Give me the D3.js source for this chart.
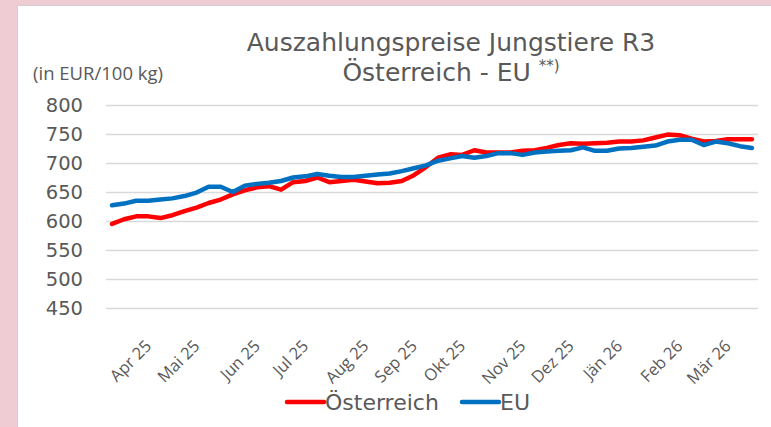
<!DOCTYPE html>
<html>
<head>
<meta charset="utf-8">
<script src="https://cdn.jsdelivr.net/npm/d3@7"></script>
<style>
  body { margin: 0; background: #efccd4; }
  svg { display: block; }
</style>
</head>
<body>
<div id="chart"></div>
<script>
// weekly prices in EUR/100 kg
var oesterreich = [595, 603, 608, 608, 605, 610, 617, 623, 631, 637, 646, 653, 658, 660,
  654, 667, 669, 675, 667, 669, 671, 668, 665, 666, 669, 679, 693, 709, 715, 714,
  722, 718, 718, 718, 721, 722, 726, 731, 734, 733, 734, 735, 737, 737, 739, 744,
  749, 748, 742, 737, 738, 741, 741, 741];
var eu = [627, 630, 635, 635, 637, 639, 643, 649, 659, 659, 650, 661, 664, 666,
  669, 675, 677, 681, 678, 676, 676, 678, 680, 682, 686, 691, 696, 704, 708, 712,
  709, 712, 717, 717, 714, 718, 720, 721, 722, 727, 721, 721, 725, 726, 728, 730,
  737, 740, 740, 731, 737, 734, 729, 726];

// month labels sit on single weeks
var monthLabels = ["Apr 25", "Mai 25", "Jun 25", "Jul 25", "Aug 25", "Sep 25",
  "Okt 25", "Nov 25", "Dez 25", "Jän 26", "Feb 26", "Mär 26"];
var monthWeeks = [3, 7, 12, 16, 21, 25, 29, 34, 38, 42, 47, 51];

var yTicks = [450, 500, 550, 600, 650, 700, 750, 800];

var svgWidth = 771, svgHeight = 427;
var margin = { top: 105, right: 13, bottom: 119, left: 106 };
var width = svgWidth - margin.left - margin.right;
var height = svgHeight - margin.top - margin.bottom;

var dejavu = "'DejaVu Sans', sans-serif";
var grey = "#595959";

var svg = d3.select("#chart").append("svg")
  .attr("width", svgWidth)
  .attr("height", svgHeight);

// white panel
svg.append("rect")
  .attr("x", 17.5).attr("y", 5.5)
  .attr("width", svgWidth).attr("height", svgHeight)
  .attr("fill", "#fff")
  .attr("stroke", "#d0d0d0");

var g = svg.append("g")
  .attr("transform", `translate(${margin.left}, ${margin.top})`);

var weeks = d3.range(oesterreich.length);

var x = d3.scaleBand()
  .domain(weeks)
  .range([0, width]);

var y = d3.scaleLinear()
  .domain([450, 800])
  .range([height, 0]);

// gridlines + y labels
var yAxis = d3.axisLeft(y)
  .tickValues(yTicks)
  .tickSize(-width)
  .tickPadding(23);

g.append("g")
  .call(yAxis)
  .call(function(a) {
    a.select(".domain").remove();
    a.selectAll(".tick line").attr("stroke", "#d9d9d9").attr("stroke-width", 1.5);
    a.selectAll(".tick text")
      .attr("fill", grey)
      .style("font-family", dejavu)
      .style("font-size", "19.5px");
  });

// x labels, rotated
var xc = function(i) { return x(i) + x.bandwidth() / 2; };

g.append("g")
  .selectAll("text")
  .data(monthLabels)
  .enter()
  .append("text")
  .attr("transform", function(d, k) {
    return `translate(${xc(monthWeeks[k]) - 4}, ${height + 31}) rotate(-45)`;
  })
  .attr("text-anchor", "end")
  .attr("dy", "0.7em")
  .attr("fill", grey)
  .style("font-family", "'Open Sans', sans-serif")
  .style("font-size", "16.5px")
  .text(function(d) { return d; });

// lines
var line = d3.line()
  .x(function(d, i) { return xc(i); })
  .y(function(d) { return y(d); });

var series = [
  { name: "Österreich", values: oesterreich, color: "#ff0000" },
  { name: "EU", values: eu, color: "#0070c0" }
];

series.forEach(function(s) {
  g.append("path")
    .datum(s.values)
    .attr("d", line)
    .attr("fill", "none")
    .attr("stroke", s.color)
    .attr("stroke-width", 4.5)
    .attr("stroke-linejoin", "round")
    .attr("stroke-linecap", "round");
});

// title
var title = svg.append("text")
  .attr("text-anchor", "middle")
  .attr("fill", grey)
  .style("font-family", dejavu)
  .style("font-size", "25px");
title.append("tspan").attr("x", 451).attr("y", 51).text("Auszahlungspreise Jungstiere R3");
var t2 = title.append("tspan").attr("x", 451).attr("y", 81).text("Österreich - EU ");
t2.append("tspan").attr("dy", -10).style("font-size", "15px").text("**)");

svg.append("text")
  .attr("x", 33).attr("y", 80)
  .attr("fill", grey)
  .style("font-family", "'Open Sans', sans-serif")
  .style("font-size", "18.5px")
  .text("(in EUR/100 kg)");

// legend
var legend = svg.append("g");
var lx = [287, 462];
series.forEach(function(s, k) {
  legend.append("line")
    .attr("x1", lx[k]).attr("x2", lx[k] + 37)
    .attr("y1", 402).attr("y2", 402)
    .attr("stroke", s.color)
    .attr("stroke-width", 4.5)
    .attr("stroke-linecap", "round");
  legend.append("text")
    .attr("x", lx[k] + 38).attr("y", 410)
    .attr("fill", grey)
    .style("font-family", dejavu)
    .style("font-size", "22px")
    .text(s.name);
});
</script>
</body>
</html>
